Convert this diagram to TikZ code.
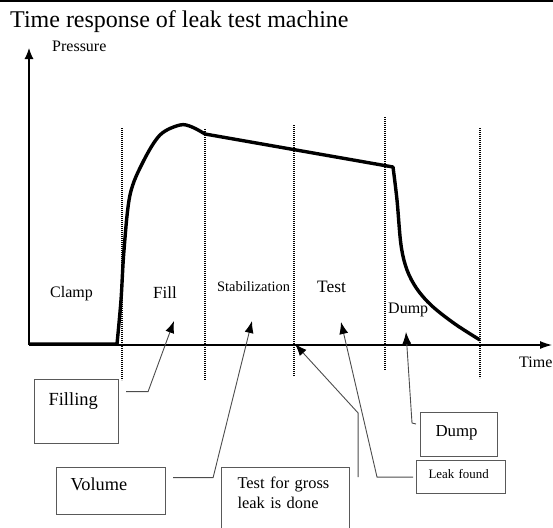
\documentclass[tikz,border=0pt]{standalone}
\usepackage{fontspec}
\setmainfont{Liberation Serif}
\usetikzlibrary{arrows.meta,calc}
\definecolor{boxgray}{gray}{0.35}
\definecolor{linkgray}{gray}{0.3}
\newcommand{\sizept}[1]{\fontsize{#1}{#1}\selectfont}

\tikzset{
  phase/.style={anchor=base west, inner sep=0pt},
  callout/.style={draw=boxgray, line width=1.1pt, anchor=north west, inner ysep=0pt, align=left},
  link/.style={draw=linkgray, line width=0.9pt, -{Latex[length=12pt,width=9pt,color=black]}},
  divider/.style={line width=1.5pt, dash pattern=on 1.2pt off 0.8pt},
  response/.style={line width=3.4pt, line join=round},
}

\begin{document}
\begin{tikzpicture}[x=1pt,y=-1pt]
  \useasboundingbox (0,0) rectangle (553,527);
  \clip (0,0) rectangle (553,527); % the gross leak box runs off the page

  \draw[line width=2.4pt] (0,1.2) -- (553,1.2);
  \node[phase,font=\sizept{24}] (title) at (10,28) {Time response of leak test machine};

  % axes
  \coordinate (O) at (29,345);
  \draw[line width=1.1pt,-{Latex[length=11pt,width=9pt]}] (O) -- (29,48);
  \draw[line width=1.1pt,-{Latex[length=12pt,width=8pt]}] (O) -- (552,345);
  \node[phase,font=\sizept{16}] (pressure) at (52,52) {Pressure};
  \node[phase,font=\sizept{16}] (time) at (519,367) {Time};

  \foreach \x/\ya/\yb in {122/128/380, 205/129/380, 294/125/376, 385/117/370, 480/128/378}
    \draw[divider] (\x,\ya) -- (\x,\yb);

  \draw[response] (29,344) -- (117,344)
    -- plot[smooth,tension=0.55] coordinates {(117,344) (121,300) (124,250) (130,195) (143,162) (160,135) (180,125) (192,127) (205,134)}
    -- (393,167)
    -- plot[smooth,tension=0.55] coordinates {(393,167) (397,200) (401,245) (407,270) (417,289) (432,306) (455,324) (480,340)};

  \node[phase,font=\sizept{16}] (clamp) at (50,297) {Clamp};
  \node[phase,font=\sizept{17}] (fill) at (153,298) {Fill};
  \node[phase,font=\sizept{14.4}] (stab) at (217,291) {Stabilization};
  \node[phase,font=\sizept{17.4}] (test) at (317,292) {Test};
  \node[phase,font=\sizept{16}] (dumpphase) at (388,313) {Dump};

  \node[callout, text width=56pt, inner xsep=14pt, text height=26pt, text depth=38pt, font=\sizept{18.5}] (filling) at (34,379) {Filling};
  \node[callout, text width=81pt, inner xsep=14pt, text height=23pt, text depth=24pt, font=\sizept{18.3}] (volume) at (56,467) {Volume};
  \node[callout, text width=96pt, inner xsep=16pt, text height=21pt, text depth=60pt, font={\fontsize{16.4}{20}\selectfont}] (gross) at (221,467) {Test for gross\\leak is done};
  \node[callout, text width=47pt, inner xsep=15pt, text height=24pt, text depth=20pt, font=\sizept{16.8}] (dump) at (420,412) {Dump};
  \node[callout, text width=65pt, inner xsep=12pt, text height=18pt, text depth=15pt, font=\sizept{12.9}] (leak) at (416,460) {Leak~found};

  \coordinate (fillTip) at (174,321);
  \coordinate (stabTip) at (252,321);
  \coordinate (grossTip) at (295,344);
  \coordinate (testTip) at (341,322);
  \coordinate (dumpTip) at (406,332);

  \draw[link] ([shift={(7,-20)}]filling.east) -- ++(22,0) -- (fillTip);
  \draw[link] ([shift={(7,-13.5)}]volume.east) -- ++(40,0) -- (stabTip);
  \draw[link] ([shift={(8,10)}]gross.north east) -- ++(0,-64) -- (grossTip);
  \draw[link] ([shift={(-3,0)}]leak.west) -- ++(-36,0) -- (testTip);
  \draw[link] ([shift={(-4,12)}]dump.north west) -- ++(-4,-1) -- (dumpTip);
\end{tikzpicture}
\end{document}
